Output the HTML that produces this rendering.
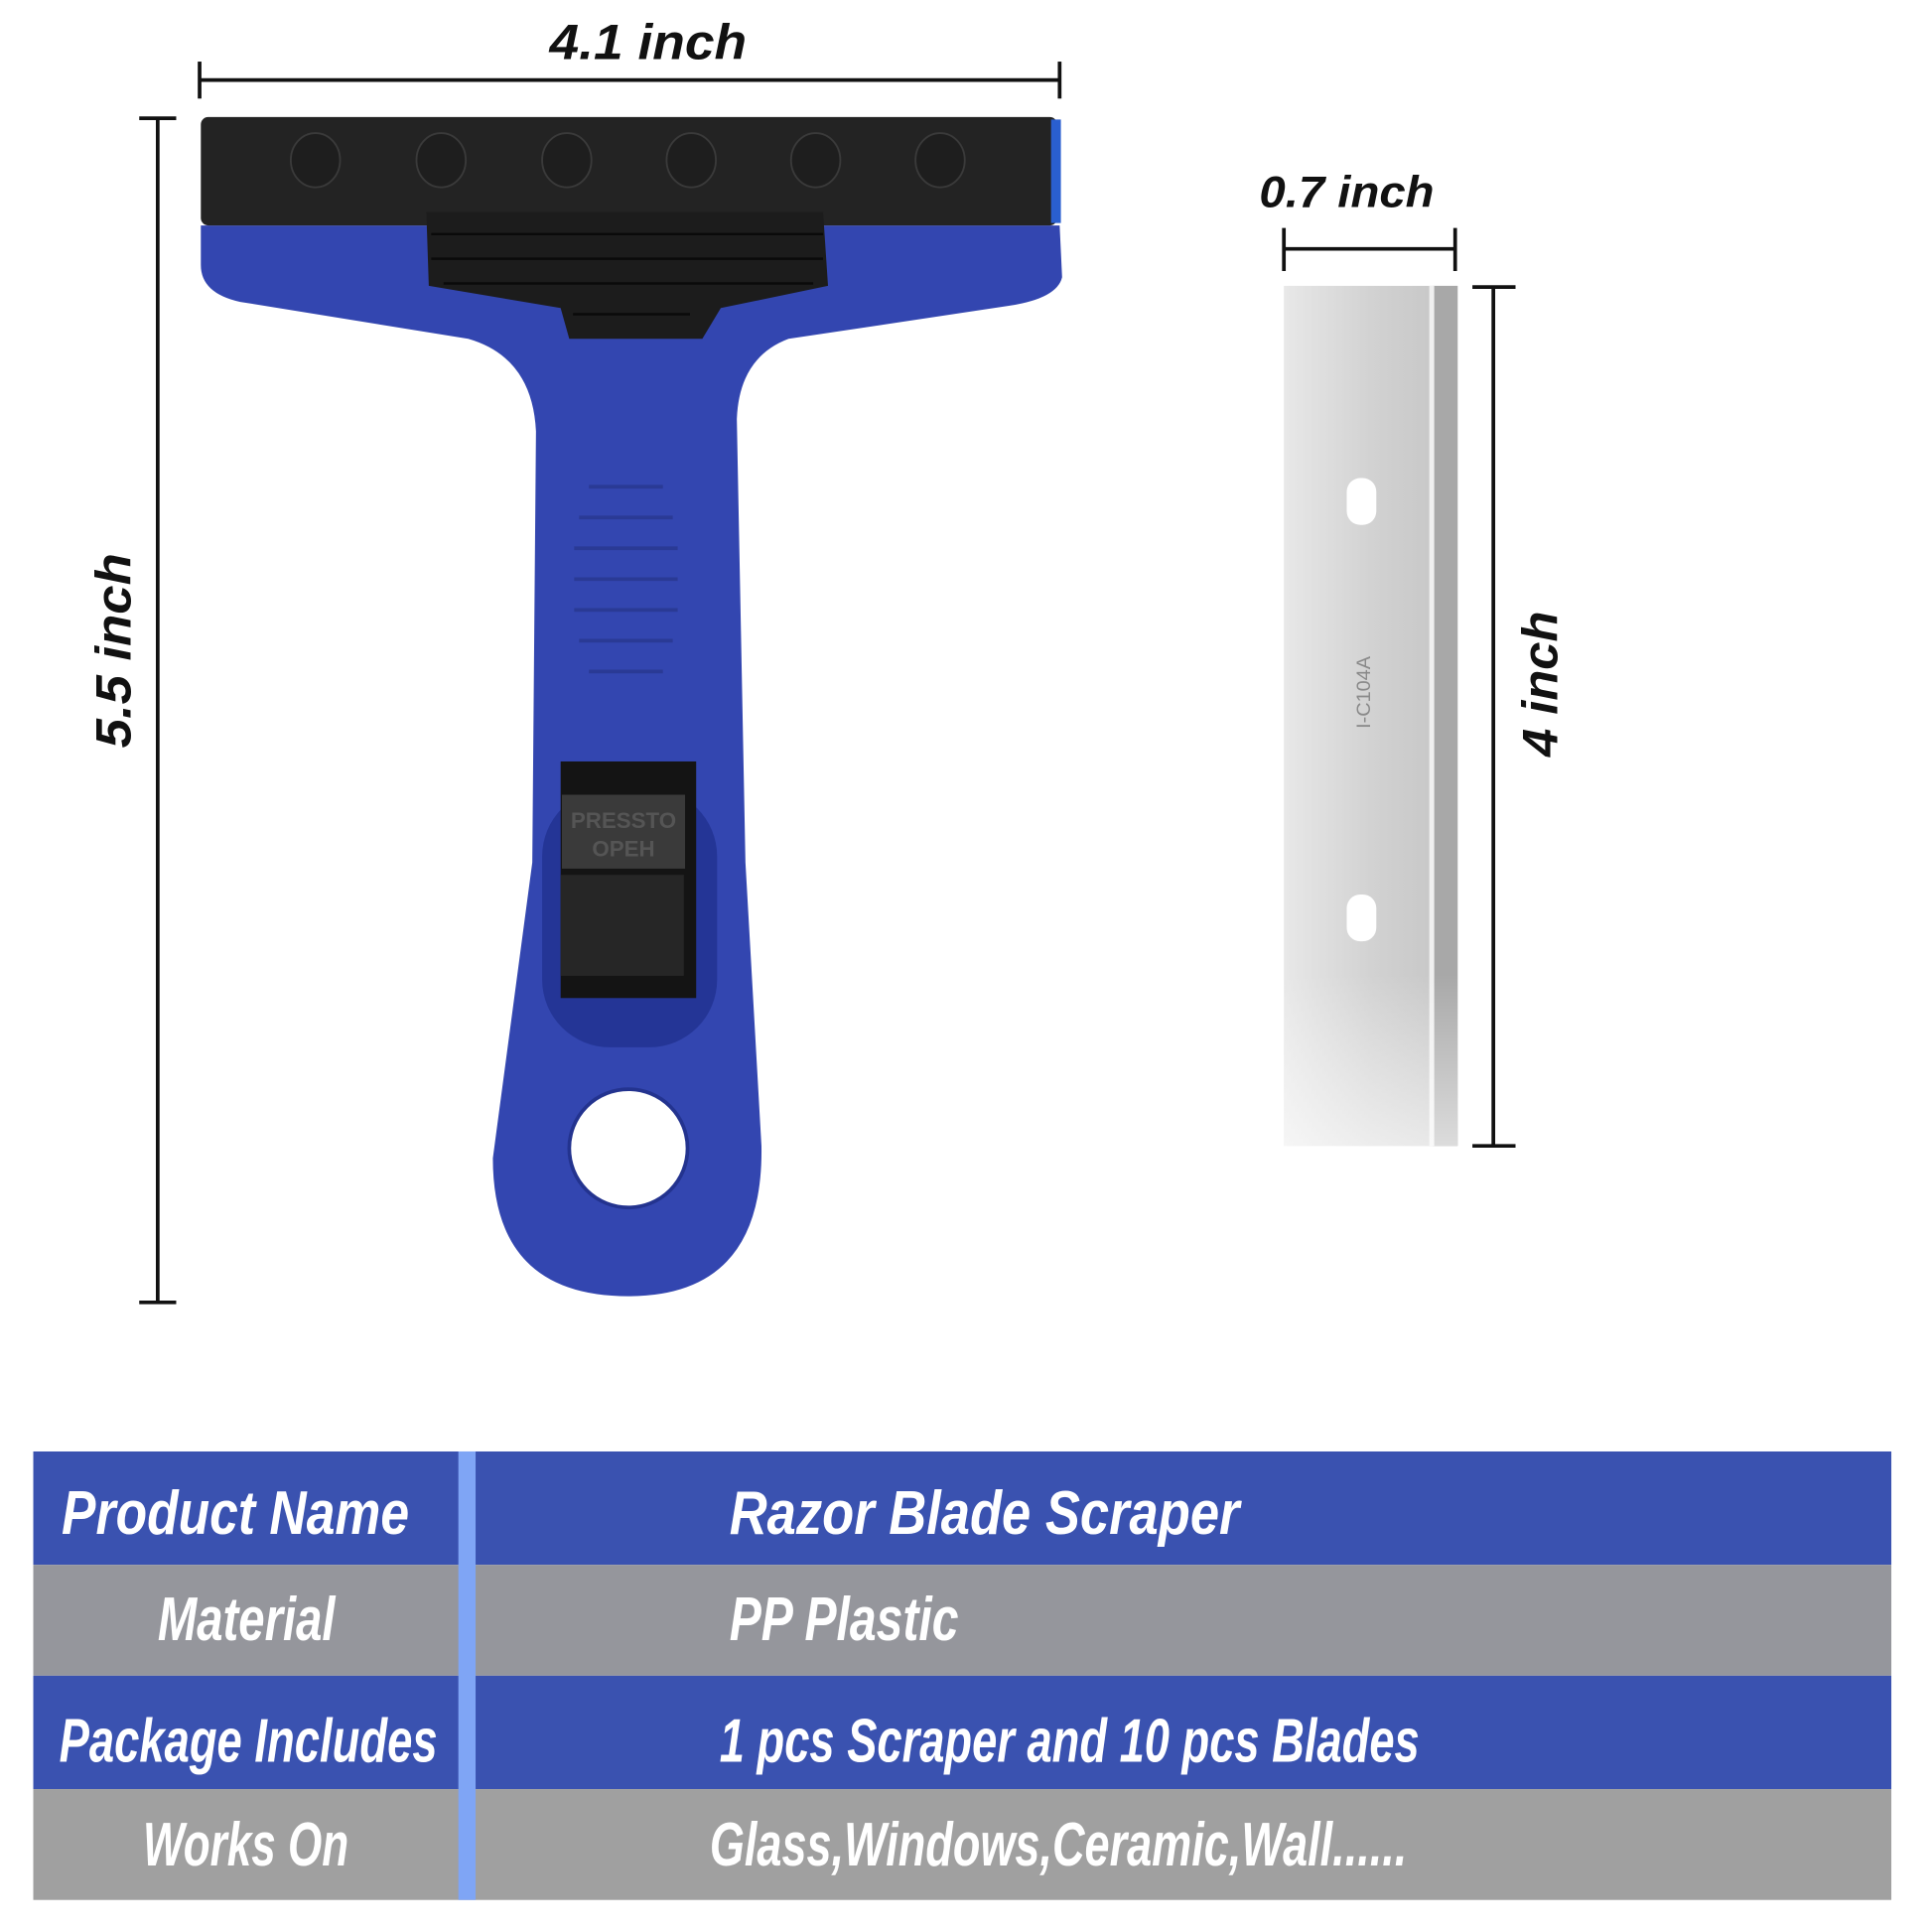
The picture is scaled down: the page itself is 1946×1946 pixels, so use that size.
<!DOCTYPE html>
<html><head><meta charset="utf-8"><style>
html,body{margin:0;padding:0;background:#fff;}
svg{display:block;}
text{font-family:"Liberation Sans",sans-serif;}
</style></head><body>
<svg width="1946" height="1946" viewBox="0 0 1568 1568" xmlns="http://www.w3.org/2000/svg">
<defs>
<linearGradient id="bl" x1="0" y1="0" x2="1" y2="0">
<stop offset="0" stop-color="#e8e8e8"/><stop offset="0.5" stop-color="#d2d2d2"/><stop offset="1" stop-color="#c4c4c4"/>
</linearGradient>
<linearGradient id="blv" x1="0" y1="0" x2="0" y2="1">
<stop offset="0" stop-color="#fff" stop-opacity="0"/><stop offset="0.8" stop-color="#fff" stop-opacity="0"/><stop offset="1" stop-color="#fff" stop-opacity="0.6"/>
</linearGradient>
</defs>
<g stroke="#111" stroke-width="3" fill="none">
<line x1="162" y1="65" x2="860" y2="65"/><line x1="162" y1="50" x2="162" y2="80"/><line x1="860" y1="50" x2="860" y2="80"/>
<line x1="128" y1="96" x2="128" y2="1057"/><line x1="113" y1="96" x2="143" y2="96"/><line x1="113" y1="1057" x2="143" y2="1057"/>
<line x1="1042" y1="202" x2="1181" y2="202"/><line x1="1042" y1="185" x2="1042" y2="220"/><line x1="1181" y1="185" x2="1181" y2="220"/>
<line x1="1212" y1="233" x2="1212" y2="930"/><line x1="1195" y1="233" x2="1230" y2="233"/><line x1="1195" y1="930" x2="1230" y2="930"/>
</g>
<g font-size="40" font-style="italic" font-weight="bold" fill="#111" text-anchor="middle">
<text x="526" y="48" textLength="160" lengthAdjust="spacingAndGlyphs">4.1 inch</text>
<text x="1093" y="168" font-size="36" textLength="142" lengthAdjust="spacingAndGlyphs">0.7 inch</text>
<text transform="translate(106,528) rotate(-90)" textLength="158" lengthAdjust="spacingAndGlyphs">5.5 inch</text>
<text transform="translate(1264,555) rotate(-90)" textLength="118" lengthAdjust="spacingAndGlyphs">4 inch</text>
</g>
<path d="M163,183 L860,183 L862,225 Q858,242 820,248 L640,275 Q600,290 598,340 L605,700 L618,930 Q620,1052 510,1052 Q400,1052 400,940 L432,700 L435,350 Q432,290 380,275 L195,245 Q163,238 163,215 Z" fill="#3346b0"/>
<rect x="163" y="95" width="695" height="88" rx="6" fill="#232323"/>
<rect x="853" y="97" width="8" height="84" fill="#2a5fd0"/>
<g fill="#1e1e1e" stroke="#3a3a3a" stroke-width="1.5">
<ellipse cx="256" cy="130" rx="20" ry="22"/><ellipse cx="358" cy="130" rx="20" ry="22"/><ellipse cx="460" cy="130" rx="20" ry="22"/>
<ellipse cx="561" cy="130" rx="20" ry="22"/><ellipse cx="662" cy="130" rx="20" ry="22"/><ellipse cx="763" cy="130" rx="20" ry="22"/>
</g>
<path d="M346,172 L668,172 L672,232 L585,250 L570,275 L462,275 L455,250 L348,232 Z" fill="#1c1c1c"/>
<g stroke="#0a0a0a" stroke-width="2"><line x1="350" y1="190" x2="668" y2="190"/><line x1="350" y1="210" x2="668" y2="210"/><line x1="360" y1="230" x2="660" y2="230"/><line x1="465" y1="255" x2="560" y2="255"/></g>
<g stroke="#2a3a95" stroke-width="3"><line x1="478" y1="395" x2="538" y2="395"/><line x1="470" y1="420" x2="546" y2="420"/><line x1="466" y1="445" x2="550" y2="445"/><line x1="466" y1="470" x2="550" y2="470"/><line x1="466" y1="495" x2="550" y2="495"/><line x1="470" y1="520" x2="546" y2="520"/><line x1="478" y1="545" x2="538" y2="545"/></g>
<rect x="440" y="640" width="142" height="210" rx="55" fill="#243596"/>
<rect x="455" y="618" width="110" height="192" fill="#141414"/>
<rect x="456" y="645" width="100" height="60" fill="#3a3a3a"/>
<text x="506" y="672" font-size="18" font-weight="bold" fill="#555" text-anchor="middle">PRESSTO</text>
<text x="506" y="695" font-size="18" font-weight="bold" fill="#555" text-anchor="middle">OPEH</text>
<rect x="455" y="710" width="100" height="82" fill="#262626"/>
<circle cx="510" cy="932" r="48" fill="#fff" stroke="#23338f" stroke-width="3"/>
<rect x="1042" y="232" width="141" height="698" fill="url(#bl)"/>
<rect x="1163" y="232" width="20" height="698" fill="#a8a8a8"/>
<rect x="1160" y="232" width="4" height="698" fill="#f0f0f0"/>
<rect x="1042" y="232" width="141" height="698" fill="url(#blv)"/>
<rect x="1093" y="388" width="24" height="38" rx="11" fill="#fff"/>
<rect x="1093" y="726" width="24" height="38" rx="11" fill="#fff"/>
<text transform="translate(1112,562) rotate(-90)" font-size="16" fill="#8a8a8a" text-anchor="middle" font-family="Liberation Mono,monospace">I-C104A</text>
<rect x="27" y="1178" width="1508" height="92" fill="#3a52b0"/>
<rect x="27" y="1270" width="1508" height="90" fill="#95969c"/>
<rect x="27" y="1360" width="1508" height="92" fill="#3a52b0"/>
<rect x="27" y="1452" width="1508" height="90" fill="#a0a0a0"/>
<rect x="372" y="1178" width="14" height="364" fill="#7fa5f5"/>
<g fill="#fff" font-size="50" font-style="italic" font-weight="bold" lengthAdjust="spacingAndGlyphs">
<text x="50" y="1245" textLength="282" lengthAdjust="spacingAndGlyphs">Product Name</text>
<text x="128" y="1331" textLength="144" lengthAdjust="spacingAndGlyphs">Material</text>
<text x="48" y="1430" textLength="307" lengthAdjust="spacingAndGlyphs">Package Includes</text>
<text x="116" y="1514" textLength="167" lengthAdjust="spacingAndGlyphs">Works On</text>
<text x="592" y="1245" textLength="414" lengthAdjust="spacingAndGlyphs">Razor Blade Scraper</text>
<text x="592" y="1331" textLength="186" lengthAdjust="spacingAndGlyphs">PP Plastic</text>
<text x="584" y="1430" textLength="568" lengthAdjust="spacingAndGlyphs">1 pcs Scraper and 10 pcs Blades</text>
<text x="576" y="1514" textLength="566" lengthAdjust="spacingAndGlyphs">Glass,Windows,Ceramic,Wall......</text>
</g>
</svg>
</body></html>
